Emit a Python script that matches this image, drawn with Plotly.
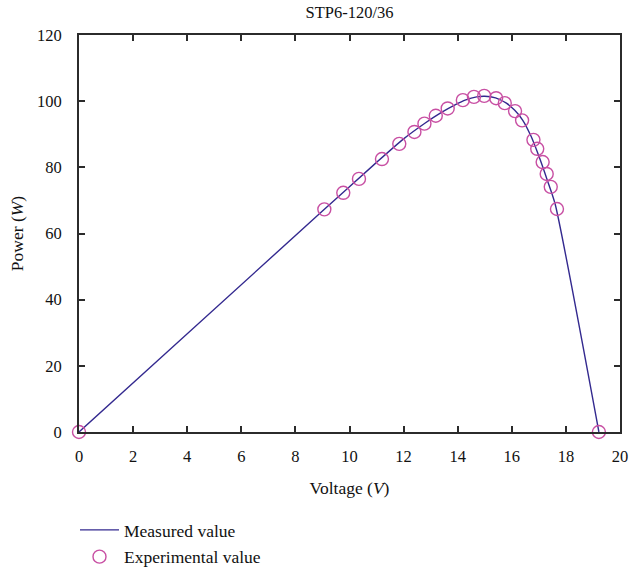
import plotly.graph_objects as go

# Measured value (line)
meas_v = [0.0, 9.0, 11.0, 12.0, 12.8, 13.4, 13.9, 14.3, 14.7, 15.0, 15.4, 15.8, 16.1, 16.4, 16.7, 17.0, 17.3, 17.6, 19.22]
meas_p = [0.0, 66.8, 81.5, 88.6, 93.4, 96.6, 98.9, 100.4, 101.3, 101.5, 101.0, 99.4, 97.3, 94.3, 89.6, 83.4, 76.4, 69.0, 0.0]

# Experimental value (markers)
exp_v = [0.0, 9.07, 9.77, 10.35, 11.20, 11.84, 12.40, 12.77, 13.19, 13.63, 14.19, 14.60, 14.98, 15.42, 15.74, 16.12, 16.38, 16.80, 16.94, 17.14, 17.29, 17.44, 17.67, 19.22]
exp_p = [0.0, 67.3, 72.3, 76.5, 82.5, 87.1, 90.7, 93.2, 95.6, 97.8, 100.3, 101.3, 101.6, 100.9, 99.4, 97.0, 94.2, 88.3, 85.6, 81.6, 78.0, 74.1, 67.4, 0.0]

x_ticks = [0, 2, 4, 6, 8, 10, 12, 14, 16, 18, 20]
y_ticks = [0, 20, 40, 60, 80, 100, 120]

FONT = "Liberation Serif, Times New Roman, serif"
AX = "#2b2b2b"

fig = go.Figure()
fig.add_trace(go.Scatter(
    x=meas_v, y=meas_p, mode="lines", name="Measured value",
    line=dict(color="#33298f", width=1.4, shape="spline", smoothing=0.6),
    legendgroup="a", cliponaxis=False,
))
fig.add_trace(go.Scatter(
    x=exp_v, y=exp_p, mode="markers", name="Experimental value",
    marker=dict(symbol="circle-open", size=13, color="#c84fa3", line=dict(width=1.4, color="#c84fa3")),
    legendgroup="b", cliponaxis=False,
))

axis_common = dict(
    showline=True, linewidth=2, linecolor=AX, mirror="ticks",
    ticks="inside", ticklen=6, tickwidth=2, tickcolor=AX,
    showgrid=False, zeroline=False, automargin=False,
    tickfont=dict(family=FONT, size=16.5, color="#111"),
)

fig.update_layout(
    width=630, height=572,
    margin=dict(l=79, r=10, t=35, b=140, autoexpand=False),
    paper_bgcolor="white", plot_bgcolor="white",
    font=dict(family=FONT, size=16, color="#111"),
    title=dict(text="STP6-120/36", x=0.5, xanchor="center", xref="paper", y=0.978, yanchor="middle",
               font=dict(family=FONT, size=16.5, color="#111")),
    xaxis=dict(range=[0, 20], tickvals=x_ticks, ticktext=[str(t) for t in x_ticks],
               ticklabelstandoff=8,
               title=dict(text="Voltage (<i>V</i>)", standoff=17, font=dict(family=FONT, size=17.5)),
               **axis_common),
    yaxis=dict(range=[0, 120], tickvals=y_ticks, ticktext=[str(t) for t in y_ticks],
               ticklabelstandoff=12,
               title=dict(text="Power (<i>W</i>)", standoff=9, font=dict(family=FONT, size=17.5)),
               **axis_common),
    showlegend=True,
    legend=dict(x=-4 / 541, xanchor="left", yref="container", y=1 - 512 / 572, yanchor="top",
                font=dict(family=FONT, size=17.5, color="#111"),
                itemwidth=39,
                traceorder="grouped", tracegroupgap=1, bgcolor="rgba(0,0,0,0)"),
)

fig.write_html("out.html")
